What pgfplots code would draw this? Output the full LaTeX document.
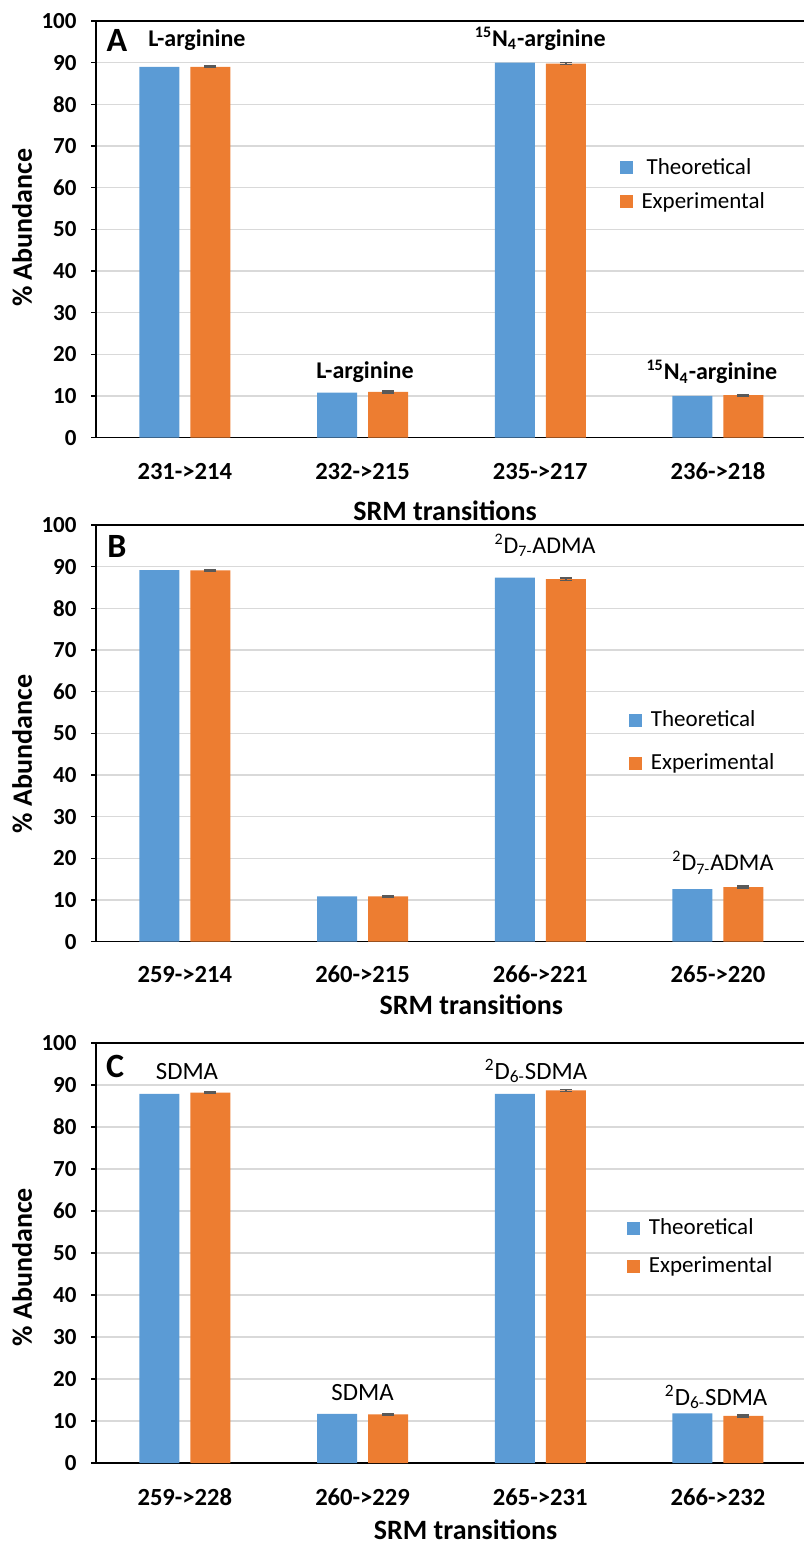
\documentclass[border=0pt]{standalone}
\usepackage{fontspec}
\setmainfont{Carlito}
\usepackage{pgfplots}
\pgfplotsset{compat=1.18}
\definecolor{cblue}{HTML}{5B9BD5}
\definecolor{corange}{HTML}{ED7D31}
\definecolor{cgrid}{HTML}{D9D9D9}
\definecolor{cerr}{HTML}{595959}
\pgfplotsset{
  panel/.style={
    scale only axis, width=355.4pt,
    xmin=-0.5, xmax=3.5, ymin=0, ymax=100,
    ytick={0,10,...,100},
    xtick={0,1,2,3},
    minor xtick={-0.5,0.5,1.5,2.5,3.5},
    xtick pos=bottom, ytick pos=left,
    tick align=outside,
    major tick length=2.5pt, minor tick length=3.5pt,
    xtick style={draw=none},
    minor x tick style={black, line width=0.6pt},
    ytick style={black, line width=0.6pt},
    axis line style={black, line width=0.6pt},
    ymajorgrids, major grid style={cgrid, line width=0.6pt},
    /pgf/number format/assume math mode=true,
    yticklabel style={font=\bfseries\fontsize{11.5}{12}\selectfont, xshift=-3.7pt},
    xticklabel style={font=\bfseries\fontsize{12.3}{13}\selectfont, anchor=north, inner sep=0pt},
    xlabel={SRM transitions},
    ylabel={\% Abundance},
    label style={font=\bfseries\fontsize{14}{15}\selectfont},
    legend cell align=left,
    legend style={draw=none, fill=none, font=\fontsize{11.5}{13}\selectfont, column sep=2.5pt},
    legend image code/.code={\path[#1, draw=none] (0pt,-3.25pt) rectangle (6.5pt,3.25pt);},
  },
  theo/.style={ybar, bar width=20pt, bar shift=-12.75pt, fill=cblue, draw=none},
  expe/.style={ybar, bar width=20pt, bar shift=12.75pt, fill=corange, draw=none,
    error bars/.cd, y dir=both, y explicit,
    error bar style={cerr, line width=0.8pt, xshift=12.75pt},
    error mark options={cerr, rotate=90, mark size=3pt, line width=0.8pt}},
}
\begin{document}
\begin{tikzpicture}
% ---------------- A
\begin{axis}[panel, at={(48pt,-10.5pt)}, anchor=north west, height=208.35pt,
  xticklabels={231->214,232->215,235->217,236->218},
  xticklabel style={yshift=-9.9pt},
  xlabel style={at={(axis description cs:0.491,0)}, anchor=center, yshift=-36.65pt},
  ylabel style={at={(axis description cs:-0.104,0.504)}, anchor=center},
  legend style={at={(axis cs:2.41,60.7)}, anchor=west, row sep=3.5pt}]
\addplot[theo] coordinates {(0,89.0) (1,10.8) (2,90.0) (3,10.05)};
\addlegendentry{\ Theoretical}
\addplot[expe] coordinates {(0,89.0) +- (0,0.15) (1,11.0) +- (0,0.2) (2,89.8) +- (0,0.2) (3,10.2) +- (0,0.2)};
\addlegendentry{Experimental}
\node[font=\bfseries\fontsize{17}{17}\selectfont] at (axis cs:-0.382,95.4) {A};
\node[font=\bfseries\fontsize{12}{13}\selectfont] at (axis cs:0.068,95.4) {L-arginine};
\node[font=\bfseries\fontsize{12}{13}\selectfont] at (axis cs:2.0,95.8) {\textsuperscript{15}N\textsubscript{4}-arginine};
\node[font=\bfseries\fontsize{12}{13}\selectfont] at (axis cs:1.014,15.75) {L-arginine};
\node[font=\bfseries\fontsize{12}{13}\selectfont] at (axis cs:2.966,15.75) {\textsuperscript{15}N\textsubscript{4}-arginine};
\end{axis}
% ---------------- B
\begin{axis}[panel, at={(48pt,-262.5pt)}, anchor=north west, height=208.35pt,
  xticklabels={259->214,260->215,266->221,265->220},
  xticklabel style={yshift=-9.4pt},
  xlabel style={at={(axis description cs:0.528,0)}, anchor=center, yshift=-31.65pt},
  ylabel style={at={(axis description cs:-0.104,0.451)}, anchor=center},
  legend style={at={(axis cs:2.463,48.0)}, anchor=west, row sep=8pt}]
\addplot[theo] coordinates {(0,89.2) (1,10.9) (2,87.4) (3,12.6)};
\addlegendentry{Theoretical}
\addplot[expe] coordinates {(0,89.1) +- (0,0.2) (1,10.9) +- (0,0.2) (2,87.0) +- (0,0.3) (3,13.1) +- (0,0.25)};
\addlegendentry{Experimental}
\node[font=\bfseries\fontsize{17}{17}\selectfont] at (axis cs:-0.382,94.9) {B};
\node[font=\fontsize{12}{13}\selectfont] at (axis cs:2.027,95.1) {\textsuperscript{2}D\textsubscript{7-}ADMA};
\node[font=\fontsize{12}{13}\selectfont] at (axis cs:3.028,18.9) {\textsuperscript{2}D\textsubscript{7-}ADMA};
\end{axis}
% ---------------- C
\begin{axis}[panel, at={(48pt,-521.5pt)}, anchor=north west, height=210pt,
  xticklabels={259->228,260->229,265->231,266->232},
  xticklabel style={yshift=-10.2pt},
  xlabel style={at={(axis description cs:0.52,0)}, anchor=center, yshift=-33.5pt},
  ylabel style={at={(axis description cs:-0.104,0.466)}, anchor=center},
  legend style={at={(axis cs:2.452,51.4)}, anchor=west, row sep=5.5pt}]
\addplot[theo] coordinates {(0,87.9) (1,11.7) (2,87.9) (3,11.8)};
\addlegendentry{Theoretical}
\addplot[expe] coordinates {(0,88.2) +- (0,0.2) (1,11.6) +- (0,0.15) (2,88.7) +- (0,0.2) (3,11.2) +- (0,0.2)};
\addlegendentry{Experimental}
\node[font=\bfseries\fontsize{17}{17}\selectfont] at (axis cs:-0.393,94.3) {C};
\node[font=\fontsize{12.4}{13}\selectfont] at (axis cs:0.012,93.3) {SDMA};
\node[font=\fontsize{12.4}{13}\selectfont] at (axis cs:1.976,93.3) {\textsuperscript{2}D\textsubscript{6-}SDMA};
\node[font=\fontsize{12.4}{13}\selectfont] at (axis cs:1.0,16.7) {SDMA};
\node[font=\fontsize{12.4}{13}\selectfont] at (axis cs:2.99,15.7) {\textsuperscript{2}D\textsubscript{6-}SDMA};
\end{axis}
\pgfresetboundingbox
\useasboundingbox (0pt,0pt) rectangle (401.5pt,-773pt);
\end{tikzpicture}
\end{document}
